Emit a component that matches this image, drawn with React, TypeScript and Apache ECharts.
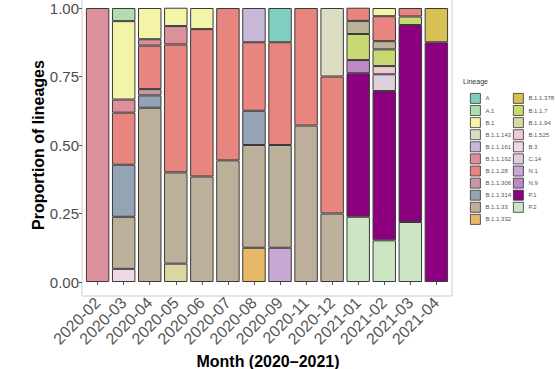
import React, { useEffect, useRef } from "react";
import * as echarts from "echarts";

const months = ["2020-02","2020-03","2020-04","2020-05","2020-06","2020-07","2020-08","2020-09","2020-11","2020-12","2021-01","2021-02","2021-03","2021-04"];

const lineages = ["A","A.1","B.1","B.1.1.143","B.1.1.161","B.1.1.162","B.1.1.28","B.1.1.306","B.1.1.314","B.1.1.33","B.1.1.332","B.1.1.378","B.1.1.7","B.1.1.94","B.1.525","B.3","C.14","N.1","N.9","P.1","P.2"];

const colors = ["#80cfc0","#b0dcb0","#f4f4a8","#dcdcc4","#c8b8d8","#dc909c","#e8857e","#c898a4","#94a4b4","#bcb09a","#e8b868","#d8c055","#c8d872","#d8d8a0","#f0c8d4","#eed8e6","#ded0dc","#c8a8d4","#c088c4","#8c0080","#cce6c4"];

const pA        = [0,0,0,0,0,0,0,0.125,0,0,0,0,0,0];
const pA1       = [0,0.048,0,0,0,0,0,0,0,0,0,0,0,0];
const pB1       = [0,0.286,0.114,0.067,0.077,0,0,0,0,0,0,0.030,0,0];
const pB11143   = [0,0,0,0,0,0,0,0,0,0.25,0,0,0,0];
const pB11161   = [0,0,0,0,0,0,0.125,0,0,0,0,0,0,0];
const pB11162   = [1,0.048,0.023,0.067,0,0,0,0,0,0,0,0,0,0];
const pB1128    = [0,0.190,0.159,0.467,0.538,0.556,0.25,0.375,0.429,0.5,0.048,0.091,0.031,0];
const pB11306   = [0,0,0.023,0,0,0,0,0,0,0,0,0,0,0];
const pB11314   = [0,0.190,0.045,0,0,0,0.125,0,0,0,0,0,0,0];
const pB1133    = [0,0.190,0.636,0.333,0.385,0.444,0.375,0.375,0.571,0.25,0.048,0.030,0,0];
const pB11332   = [0,0,0,0,0,0,0.125,0,0,0,0,0,0,0];
const pB11378   = [0,0,0,0,0,0,0,0,0,0,0,0,0,0.125];
const pB117     = [0,0,0,0,0,0,0,0,0,0,0.095,0.061,0.031,0];
const pB1194    = [0,0,0,0.067,0,0,0,0,0,0,0,0,0,0];
const pB1525    = [0,0,0,0,0,0,0,0,0,0,0,0.030,0,0];
const pB3       = [0,0.048,0,0,0,0,0,0,0,0,0,0,0,0];
const pC14      = [0,0,0,0,0,0,0,0,0,0,0,0.061,0,0];
const pN1       = [0,0,0,0,0,0,0,0.125,0,0,0,0,0,0];
const pN9       = [0,0,0,0,0,0,0,0,0,0,0.048,0,0,0];
const pP1       = [0,0,0,0,0,0,0,0,0,0,0.524,0.545,0.719,0.875];
const pP2       = [0,0,0,0,0,0,0,0,0,0,0.238,0.152,0.219,0];

const values = [pA,pA1,pB1,pB11143,pB11161,pB11162,pB1128,pB11306,pB11314,pB1133,pB11332,pB11378,pB117,pB1194,pB1525,pB3,pC14,pN1,pN9,pP1,pP2];

const yTicks = [0, 0.25, 0.5, 0.75, 1];

const FONT = "Liberation Sans, Arial, Helvetica, sans-serif";

export default function App() {
  const ref = useRef<HTMLDivElement>(null);
  useEffect(() => {
    if (!ref.current) return;
    const chart = echarts.init(ref.current, null, { renderer: "svg" });
    const unit = 370 / 14.2;
    const gridLeft = 82 + 0.6 * unit - 0.5 * unit;
    const gridWidth = 14 * unit;
    const order = lineages.map((_, i) => i).reverse();
    const series = order.map((i) => ({
      name: lineages[i],
      type: "bar",
      stack: "all",
      barWidth: "90%",
      itemStyle: { color: colors[i], borderColor: "#3a3a3a", borderWidth: 1 },
      emphasis: { disabled: true },
      data: values[i].map((v) => (v === 0 ? "-" : v)),
    }));
    const legendBase = {
      orient: "vertical",
      itemWidth: 10,
      itemHeight: 10,
      itemGap: 1.3,
      selectedMode: false,
      icon: "rect",
      itemStyle: { borderColor: "#333", borderWidth: 0.8 },
      textStyle: { fontSize: 6, color: "#555", fontFamily: FONT },
      top: 88,
    };
    chart.setOption({
      animation: false,
      backgroundColor: "#ffffff",
      grid: { left: gridLeft, top: 8, width: gridWidth, height: 274, containLabel: false },
      legend: [
        { ...legendBase, left: 465, data: lineages.slice(0, 11) },
        { ...legendBase, left: 508, data: lineages.slice(11) },
      ],
      xAxis: {
        type: "category",
        data: months,
        offset: 14,
        axisLine: { show: false },
        axisTick: { show: true, alignWithLabel: true, interval: 0, length: 3, lineStyle: { color: "#555" } },
        axisLabel: { interval: 0, rotate: 45, fontSize: 16, color: "#555555", margin: 4, fontFamily: FONT },
      },
      yAxis: {
        type: "value",
        min: 0,
        max: 1,
        interval: 0.25,
        offset: gridLeft - 82,
        splitLine: { show: false },
        axisLine: { show: false },
        axisTick: { show: true, length: 3, lineStyle: { color: "#555" } },
        axisLabel: {
          fontSize: 15,
          color: "#4d4d4d",
          margin: 3,
          fontFamily: FONT,
          formatter: (v: number) => (yTicks.includes(v) ? v.toFixed(2) : ""),
        },
      },
      graphic: [
        {
          type: "polyline",
          silent: true,
          shape: { points: [[82, -10], [82, 296], [452, 296], [452, -10]] },
          style: { stroke: "#cccccc", fill: "none", lineWidth: 1 },
        },
        {
          type: "text",
          x: 38,
          y: 145,
          rotation: Math.PI / 2,
          style: {
            text: "Proportion of lineages",
            font: `bold 16px ${FONT}`,
            fill: "#000",
            align: "center",
            verticalAlign: "middle",
          },
        },
        {
          type: "text",
          x: 268,
          y: 361,
          style: {
            text: "Month (2020\u20132021)",
            font: `bold 16px ${FONT}`,
            fill: "#000",
            align: "center",
            verticalAlign: "middle",
          },
        },
        {
          type: "text",
          x: 463,
          y: 81,
          style: {
            text: "Lineage",
            font: `7px ${FONT}`,
            fill: "#333",
            align: "left",
            verticalAlign: "middle",
          },
        },
      ],
      series,
    });
    return () => chart.dispose();
  }, []);
  return <div ref={ref} style={{ position: "fixed", left: 0, top: 0, width: 555, height: 369 }} />;
}
